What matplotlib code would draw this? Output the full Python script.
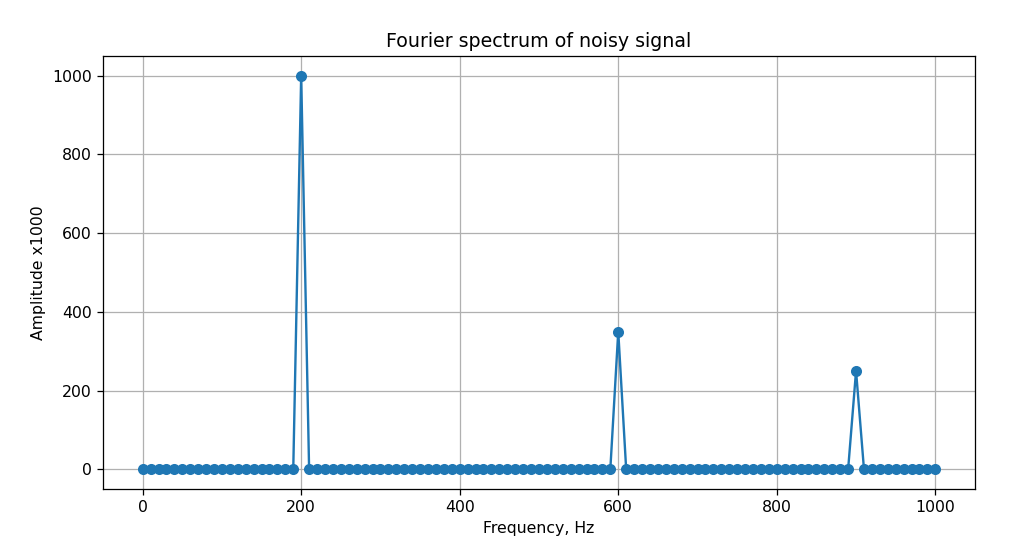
import numpy as np
import matplotlib
matplotlib.use('Agg')
import matplotlib.pyplot as plt

# spectrum bins, 10 Hz apart
freqs = list(range(0, 1001, 10))
amplitude = [0]*20 + [1000] + [0]*39 + [350] + [0]*29 + [250] + [0]*10

dpi = 1024 / 9
fig = plt.figure(figsize=(9, 541 / dpi), dpi=dpi)
ax = fig.add_axes([0.1006, 0.0961, 0.8515, 0.8004])

ax.plot(freqs, amplitude, marker='o', color='#1f77b4')
ax.set_title('Fourier spectrum of noisy signal')
ax.set_xlabel('Frequency, Hz')
ax.set_ylabel('Amplitude x1000')
ax.grid(True)

fig.savefig('out.png', dpi=dpi)
